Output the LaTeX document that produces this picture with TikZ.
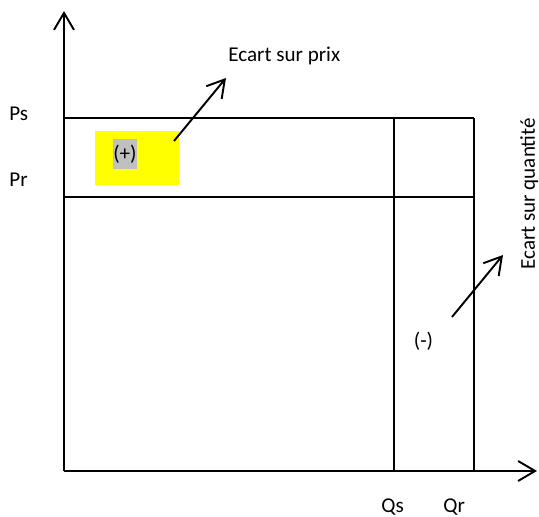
\documentclass[tikz,border=0pt]{standalone}
\usepackage{fontspec}
\setmainfont{Carlito}
\usetikzlibrary{arrows.meta}
\definecolor{ecartyellow}{HTML}{FFFF00}
\definecolor{ecartgray}{HTML}{C0C0C0}
\tikzset{
  trait/.style={line width=1.1pt},
  fleche/.style={line width=1.1pt, -{Straight Barb[length=0.34cm,width=0.4cm]}},
  lbl/.style={font=\fontsize{12}{14}\selectfont, inner sep=0pt},
}

\begin{document}
\begin{tikzpicture}[x=0.02cm, y=-0.02cm]
\useasboundingbox (0,0) rectangle (539,517);

% zone (+)
\fill[ecartyellow] (95,131) rectangle (179,185);
\node[lbl, fill=ecartgray, minimum width=0.48cm, minimum height=0.6cm] (plus) at (125,154) {(+)};

% axes
\coordinate (O) at (64,471);
\coordinate (ytop) at (64,11);
\coordinate (xend) at (537,471);
\draw[fleche] (O) -- (ytop);
\draw[fleche] (O) -- (xend);

% prix et quantites
\draw[trait] (64,118) -- (474,118);
\draw[trait] (64,197) -- (474,197);
\draw[trait] (394,118) -- (394,471);
\draw[trait] (474,118) -- (474,471);

\node[lbl, anchor=base west] (ps) at (9,121)  {Ps};
\node[lbl, anchor=base west] (pr) at (9,187)  {Pr};
\node[lbl, anchor=base west] (qs) at (381,513) {Qs};
\node[lbl, anchor=base west] (qr) at (443,513) {Qr};
\node[lbl] (moins) at (423.5,341.5) {(-)};

% ecarts
\node[lbl, anchor=base west] (prix) at (228,62) {Ecart sur prix};
\node[lbl, anchor=base west, rotate=90] (quantite) at (535,270) {Ecart sur quantité};
\coordinate (prixfrom) at (174,141);
\coordinate (prixto) at (226,78);
\coordinate (qtefrom) at (452,317);
\coordinate (qteto) at (503,255);
\draw[fleche] (prixfrom) -- (prixto);
\draw[fleche] (qtefrom) -- (qteto);
\end{tikzpicture}
\end{document}
